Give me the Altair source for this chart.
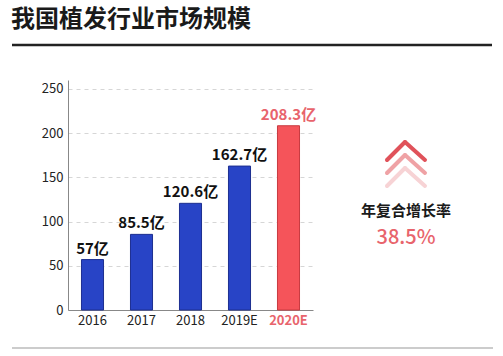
import altair as alt
import pandas as pd

years = ["2016", "2017", "2018", "2019E", "2020E"]
values = [57, 85.5, 120.6, 162.7, 208.3]
labels = ["57亿", "85.5亿", "120.6亿", "162.7亿", "208.3亿"]
highlight = [False, False, False, False, True]
title_text = "我国植发行业市场规模"
cagr_label = "年复合增长率"
cagr_value = "38.5%"

FONT = "Noto Sans CJK SC"
BLUE = "#2844c6"
RED = "#f5545a"
PINK = "#e8646c"

df = pd.DataFrame({"year": years, "value": values, "label": labels, "hl": highlight})

W, H = 245, 230

x_enc = alt.X("year:N", sort=years, title=None,
              scale=alt.Scale(paddingInner=0.55, paddingOuter=0.275),
              axis=alt.Axis(labelAngle=0, ticks=False, domainColor="#888",
                            labelFont=FONT, labelFontSize=13, labelPadding=4,
                            labelColor=alt.ExprRef("datum.value == '2020E' ? '%s' : '#222'" % PINK),
                            labelFontWeight=alt.ExprRef("datum.value == '2020E' ? 'bold' : 'normal'"),
                            grid=False))
y_enc = alt.Y("value:Q", title=None,
              scale=alt.Scale(domain=[0, 250]),
              axis=alt.Axis(values=[0, 50, 100, 150, 200, 250], ticks=False,
                            domainColor="#888", labelFont=FONT, labelFontSize=13,
                            labelColor="#222", labelPadding=5,
                            gridDash=[4, 4], gridColor="#d6d6d6"))

base = alt.Chart(df)
bars = base.mark_bar(strokeWidth=1).encode(
    x=x_enc, y=y_enc,
    color=alt.condition("datum.hl", alt.value(RED), alt.value(BLUE)),
    stroke=alt.condition("datum.hl", alt.value("#c83a40"), alt.value("#1d2f90")),
)
texts = base.mark_text(font=FONT, fontSize=15, fontWeight="bold", dy=-11, baseline="middle").encode(
    x=alt.X("year:N", sort=years), y="value:Q", text="label:N",
    color=alt.condition("datum.hl", alt.value(PINK), alt.value("#111")),
)

one = pd.DataFrame({"a": [0]})

def txt(s, x, y, size, color, weight="bold", align="left", baseline="middle"):
    return alt.Chart(one).mark_text(text=s, font=FONT, fontSize=size, fontWeight=weight,
                                    color=color, align=align, baseline=baseline).encode(
        x=alt.value(x), y=alt.value(y))

def rule(x1, y1, x2, y2, color, width, cap="butt"):
    return alt.Chart(one).mark_rule(color=color, strokeWidth=width, strokeCap=cap).encode(
        x=alt.value(x1), y=alt.value(y1), x2=alt.value(x2), y2=alt.value(y2))

deco = [
    txt(title_text, -57, -53, 24, "#1a1a1a", baseline="alphabetic"),
    rule(-56, -35, 424, -35, "#222", 2.5),
    rule(-56, 268, 425, 268, "#999", 1.2),
    txt(cagr_label, 338, 131, 15, "#1a1a1a", align="center"),
    txt(cagr_value, 338, 158, 20, PINK, weight=500, align="center"),
]
chev_colors = ["#e0525a", "#efa2a5", "#f7d3d5"]
apex_y = [62, 75, 88]
for c, ay in zip(chev_colors, apex_y):
    deco.append(rule(337, ay, 319, ay + 18, c, 4, "round"))
    deco.append(rule(337, ay, 357, ay + 18, c, 4, "round"))

chart = alt.layer(bars, texts, *deco).properties(
    width=W, height=H,
    padding={"left": 68, "top": 80, "right": 190, "bottom": 46},
    autosize=alt.AutoSizeParams(type="none"),
    background="white",
).configure_view(stroke=None)

chart.save("out.html", embed_options={"renderer": "svg", "actions": False})
